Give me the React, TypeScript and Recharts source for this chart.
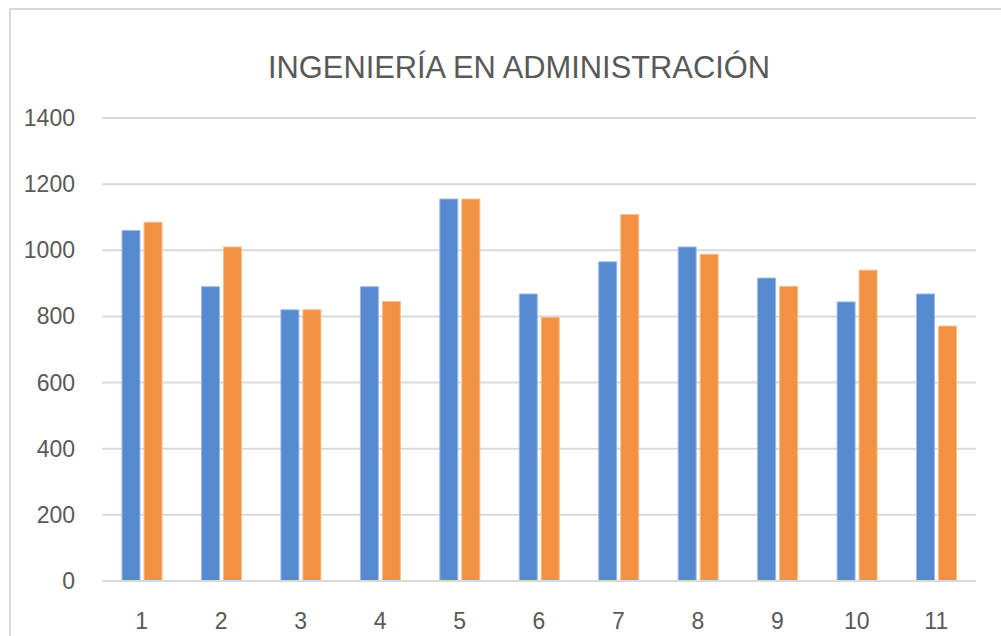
import React from "react";
import { BarChart, Bar, XAxis, YAxis, CartesianGrid } from "recharts";

const categories = ["1", "2", "3", "4", "5", "6", "7", "8", "9", "10", "11"];
const seriesA = [1060, 890, 820, 890, 1155, 868, 965, 1010, 916, 844, 868];
const seriesB = [1085, 1010, 820, 845, 1155, 797, 1108, 988, 891, 940, 771];
const yTicks = [0, 200, 400, 600, 800, 1000, 1200, 1400];
const title = "INGENIERÍA EN ADMINISTRACIÓN";

const data = categories.map((c, i) => ({ name: c, a: seriesA[i], b: seriesB[i] }));

const FONT = '"Liberation Sans Narrow", "Liberation Sans", sans-serif';
const TEXT = "#595959";

const YTick = (props: any) => {
  const { x, y, payload } = props;
  return (
    <text x={x} y={y} dy={8} textAnchor="end" fontFamily={FONT} fontSize={23} fill={TEXT}>
      {payload.value}
    </text>
  );
};

const XTick = (props: any) => {
  const { x, y, payload } = props;
  return (
    <text x={x} y={y} dy={32} dominantBaseline="central" textAnchor="middle" fontFamily={FONT} fontSize={23} fill={TEXT}>
      {payload.value}
    </text>
  );
};

export default function App() {
  return (
    <div style={{ position: "absolute", left: 0, top: 0, width: 1001, height: 636, overflow: "hidden", background: "#fff" }}>
      <div
        style={{
          position: "absolute",
          left: 9,
          top: 8,
          width: 1100,
          height: 800,
          border: "2px solid #d9d9d9",
          boxSizing: "border-box",
        }}
      />
      <div style={{ position: "absolute", left: 0, top: 0 }}>
        <BarChart
          width={1001}
          height={636}
          data={data}
          margin={{ top: 118, right: 25, bottom: 15, left: 27 }}
          barSize={18}
          barGap={4}
        >
          <text
            x={519}
            y={78}
            textAnchor="middle"
            fontFamily='"Liberation Sans", sans-serif'
            fontSize={32}
            fill={TEXT}
            textLength={502}
            lengthAdjust="spacingAndGlyphs"
          >
            {title}
          </text>
          <CartesianGrid vertical={false} stroke="#d9d9d9" strokeWidth={2} />
          <XAxis
            dataKey="name"
            axisLine={{ stroke: "#d9d9d9", strokeWidth: 2 }}
            tickLine={false}
            tick={<XTick />}
            height={40}
            interval={0}
          />
          <YAxis
            domain={[0, 1400]}
            ticks={yTicks}
            axisLine={false}
            tickLine={false}
            tick={<YTick />}
            width={75}
            tickSize={0}
            tickMargin={27}
          />
          <Bar dataKey="a" fill="#5689D0" stroke="#9dbbe6" strokeWidth={1} isAnimationActive={false} />
          <Bar dataKey="b" fill="#F29141" stroke="#f7bd8c" strokeWidth={1} isAnimationActive={false} />
        </BarChart>
      </div>
    </div>
  );
}
